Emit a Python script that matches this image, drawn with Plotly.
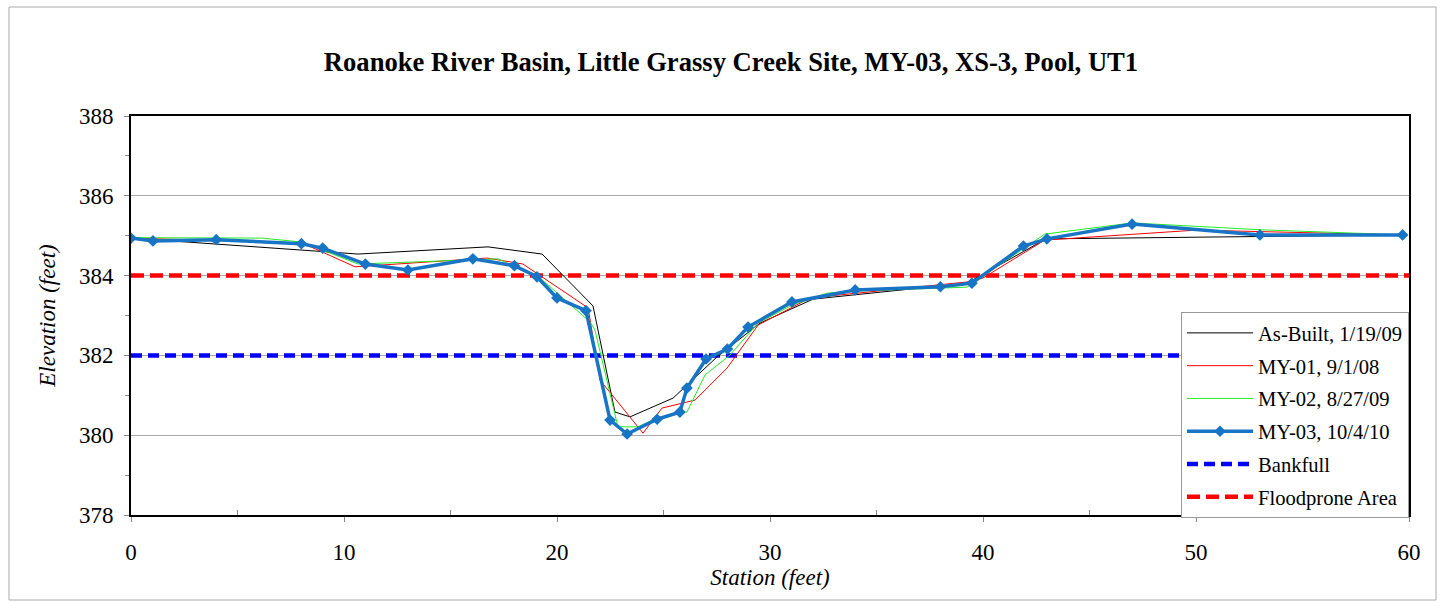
import plotly.graph_objects as go

# ---- data ----
asbuilt_x = [0, 10.66, 16.76, 19.3, 21.69, 22.72, 23.43, 25.45, 27.51, 29.53, 32.02, 39.25, 42.96, 59.7]
asbuilt_y = [384.94, 384.54, 384.72, 384.54, 383.24, 380.58, 380.46, 380.93, 381.96, 382.81, 383.41, 383.81, 384.92, 385.02]

my01_x = [0, 8.03, 10.52, 16.71, 18.4, 21.46, 22.02, 24.04, 24.93, 26.48, 27.98, 29.44, 31.88, 39.25, 40.0, 42.9, 50.0, 59.7]
my01_y = [384.94, 384.82, 384.22, 384.44, 384.29, 383.19, 381.38, 380.05, 380.68, 380.88, 381.68, 382.76, 383.44, 383.84, 383.94, 384.89, 385.14, 385.02]

my02_x = [0, 6.15, 8.03, 10.66, 17.23, 19.2, 21.55, 21.78, 22.86, 23.8, 24.7, 26.1, 26.95, 28.12, 29.44, 31.03, 32.68, 33.9, 39.25, 42.9, 47.0, 53.0, 59.7]
my02_y = [384.95, 384.94, 384.84, 384.29, 384.42, 383.94, 382.84, 382.64, 380.21, 380.21, 380.43, 380.58, 381.51, 382.01, 382.81, 383.26, 383.56, 383.61, 383.71, 385.04, 385.32, 385.15, 385.02]

my03_x = [0, 1.03, 4.0, 8.0, 9.0, 11.0, 13.0, 16.05, 18.0, 19.06, 20.0, 21.36, 22.49, 23.29, 24.7, 25.77, 26.1, 27.0, 28.0, 28.97, 31.03, 34.0, 38.0, 39.48, 41.9, 43.0, 47.0, 53.0, 59.7]
my03_y = [384.94, 384.87, 384.9, 384.8, 384.69, 384.29, 384.14, 384.42, 384.25, 383.97, 383.44, 383.12, 380.38, 380.03, 380.4, 380.58, 381.18, 381.91, 382.16, 382.71, 383.34, 383.64, 383.72, 383.81, 384.74, 384.92, 385.29, 385.02, 385.02]

bankfull_x = [0, 60]
bankfull_y = [382, 382]
floodprone_x = [0, 60]
floodprone_y = [384, 384]

title_text = "Roanoke River Basin, Little Grassy Creek Site, MY-03, XS-3, Pool, UT1"

FONT = "Liberation Serif, Times New Roman, serif"

fig = go.Figure()

fig.add_trace(go.Scatter(x=bankfull_x, y=bankfull_y, mode="lines", name="Bankfull",
                         line=dict(color="#0000ff", width=4.5, dash="11px,6px"),
                         legendgroup="e", legendrank=5))
fig.add_trace(go.Scatter(x=floodprone_x, y=floodprone_y, mode="lines", name="Floodprone Area",
                         line=dict(color="#ff0000", width=4.5, dash="13px,6px"),
                         legendgroup="f", legendrank=6))
fig.add_trace(go.Scatter(x=asbuilt_x, y=asbuilt_y, mode="lines", name="As-Built, 1/19/09",
                         line=dict(color="#000000", width=1), legendgroup="a", legendrank=1))
fig.add_trace(go.Scatter(x=my01_x, y=my01_y, mode="lines", name="MY-01, 9/1/08",
                         line=dict(color="#ff0000", width=1), legendgroup="b", legendrank=2))
fig.add_trace(go.Scatter(x=my02_x, y=my02_y, mode="lines", name="MY-02, 8/27/09",
                         line=dict(color="#22ee22", width=1), legendgroup="c", legendrank=3))
fig.add_trace(go.Scatter(x=my03_x, y=my03_y, mode="lines+markers", name="MY-03, 10/4/10",
                         line=dict(color="#1874c4", width=3.5),
                         marker=dict(symbol="diamond", size=9, color="#1874c4"),
                         legendgroup="d", legendrank=4))

W, H = 1443, 601
L, R, T, B = 131, 34, 116, 86
PW, PH = W - L - R, H - T - B


def px_x(p):
    return (p - L) / PW


def px_y(p):
    return (H - B - p) / PH


fig.update_layout(
    width=W, height=H,
    margin=dict(l=L, r=R, t=T, b=B),
    paper_bgcolor="white", plot_bgcolor="white",
    font=dict(family=FONT, size=23, color="black"),
    title=dict(text="<b>" + title_text + "</b>", x=731 / W, xanchor="center",
               y=1 - 62 / H, yanchor="middle", font=dict(family=FONT, size=26.6)),
    showlegend=True,
    legend=dict(x=1, xanchor="right", y=-3 / PH, yanchor="bottom",
                bgcolor="white", bordercolor="#999999", borderwidth=1,
                font=dict(family=FONT, size=20.6), tracegroupgap=3,
                traceorder="grouped", itemwidth=66),
    shapes=[dict(type="rect", xref="paper", yref="paper",
                 x0=px_x(9), x1=px_x(1436), y0=px_y(600), y1=px_y(7),
                 line=dict(color="#aaaaaa", width=1), layer="below")],
)

fig.update_xaxes(range=[0, 60], tickvals=[0, 10, 20, 30, 40, 50, 60],
                 showgrid=False, zeroline=False,
                 showline=True, linecolor="black", linewidth=2, mirror=True,
                 ticks="outside", ticklen=5, tickcolor="#888888",
                 minor=dict(tickvals=[5, 15, 25, 35, 45, 55], ticks="inside", ticklen=5, tickcolor="#888888"),
                 tickfont=dict(size=23), ticklabelstandoff=10,
                 title=dict(text="<i>Station (feet)</i>", font=dict(size=23), standoff=2))
fig.update_yaxes(range=[378, 388], tickvals=[378, 380, 382, 384, 386, 388],
                 showgrid=True, gridcolor="#aaaaaa", gridwidth=1, zeroline=False,
                 showline=True, linecolor="black", linewidth=2, mirror=True,
                 ticks="outside", ticklen=5, tickcolor="#888888",
                 minor=dict(tickvals=[379, 381, 383, 385, 387], ticks="outside", ticklen=4, tickcolor="#888888"),
                 tickfont=dict(size=23), ticklabelstandoff=6,
                 title=dict(text="<i>Elevation (feet)</i>", font=dict(size=23), standoff=17))

fig.write_html("out.html", config={"displayModeBar": False})

# remove the browser's default body margin so the figure sits at the page origin
with open("out.html", "r", encoding="utf-8") as f:
    html = f.read()
html = html.replace("<head>", "<head><style>body{margin:0;padding:0;overflow:hidden;}</style>", 1)
with open("out.html", "w", encoding="utf-8") as f:
    f.write(html)
